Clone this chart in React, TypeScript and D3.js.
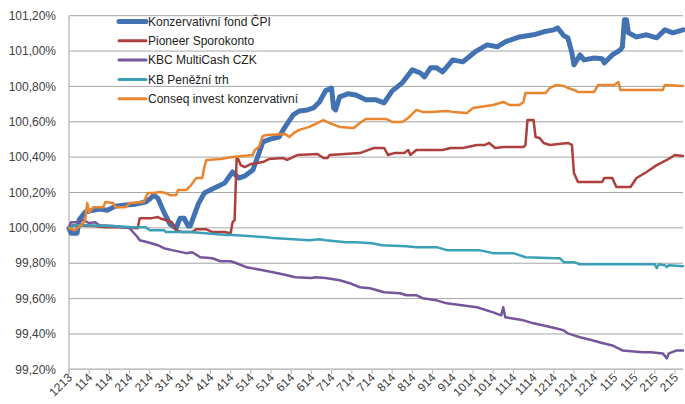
import React from "react";
import * as d3 from "d3";

const xLabels = ["1213","114","114","214","214","314","314","414","414","514","514","614","614","714","714","714","814","814","914","914","1014","1014","1114","1114","1214","1214","1214","115","115","215","215"];
const yTicks = [99.2, 99.4, 99.6, 99.8, 100.0, 100.2, 100.4, 100.6, 100.8, 101.0, 101.2];
const seriesNames = ["Konzervativní fond ČPI", "Pioneer Sporokonto", "KBC MultiCash CZK", "KB Peněžní trh", "Conseq invest konzervativní"];

const konzervativni: [number, number][] = [[0,99.998],[1,99.970],[4,99.970],[5,100.044],[8,100.089],[12,100.100],[15,100.106],[19,100.100],[23,100.123],[28,100.129],[33,100.134],[38,100.146],[40,100.163],[42,100.185],[44,100.168],[47,100.089],[50,100.021],[53,99.998],[55,100.055],[57,100.055],[59,100.010],[60,100.010],[62,100.072],[64,100.134],[67,100.197],[72,100.225],[77,100.253],[81,100.316],[84,100.282],[87,100.293],[91,100.327],[93,100.389],[96,100.486],[100,100.503],[104,100.514],[107,100.571],[111,100.639],[114,100.661],[118,100.667],[121,100.678],[124,100.712],[127,100.775],[130,100.791],[131,100.678],[132,100.667],[134,100.741],[138,100.758],[142,100.752],[147,100.724],[152,100.724],[156,100.707],[160,100.775],[165,100.820],[170,100.894],[174,100.876],[176,100.854],[179,100.905],[182,100.905],[185,100.882],[190,100.950],[195,100.939],[201,100.995],[207,101.035],[212,101.024],[216,101.052],[223,101.080],[230,101.092],[235,101.109],[240,101.120],[242,101.131],[245,101.086],[247,101.075],[249,100.990],[250,100.922],[253,100.978],[255,100.950],[260,100.961],[264,100.956],[265,100.933],[269,100.978],[273,101.007],[274,101.024],[275,101.177],[276,101.177],[277,101.103],[281,101.080],[286,101.092],[291,101.075],[295,101.120],[299,101.103],[304,101.120]];

const pioneer: [number, number][] = [[0,99.998],[2,100.015],[12,100.010],[18,100.004],[25,100.004],[34,99.998],[35,100.055],[41,100.055],[44,100.061],[46,100.050],[48,100.044],[51,100.032],[53,99.987],[56,99.976],[61,99.976],[63,99.992],[68,99.992],[71,99.976],[77,99.976],[80,99.970],[81,100.032],[82,100.044],[83,100.401],[84,100.384],[85,100.355],[87,100.344],[90,100.361],[96,100.372],[99,100.389],[106,100.395],[108,100.384],[113,100.412],[123,100.418],[126,100.395],[128,100.395],[129,100.412],[144,100.423],[148,100.440],[151,100.452],[156,100.452],[158,100.412],[161,100.423],[166,100.423],[168,100.440],[169,100.412],[172,100.440],[185,100.440],[189,100.452],[195,100.452],[202,100.469],[206,100.469],[208,100.480],[211,100.452],[215,100.457],[225,100.457],[226,100.469],[227,100.610],[230,100.610],[231,100.514],[233,100.508],[235,100.480],[238,100.469],[247,100.480],[249,100.469],[250,100.310],[252,100.259],[264,100.259],[265,100.282],[269,100.282],[271,100.231],[278,100.231],[281,100.282],[286,100.316],[291,100.355],[296,100.384],[300,100.412],[304,100.406]];

const kbc: [number, number][] = [[0,100.000],[1,100.032],[4,100.032],[7,100.044],[10,100.027],[13,100.032],[15,100.015],[22,100.010],[28,100.004],[30,99.998],[34,99.947],[35,99.930],[39,99.919],[44,99.902],[47,99.885],[51,99.874],[58,99.857],[61,99.862],[65,99.834],[71,99.828],[75,99.811],[80,99.811],[83,99.800],[88,99.777],[96,99.760],[101,99.749],[108,99.732],[112,99.721],[120,99.716],[122,99.721],[127,99.716],[134,99.704],[139,99.687],[144,99.664],[149,99.658],[156,99.636],[164,99.630],[167,99.619],[172,99.619],[175,99.602],[182,99.590],[187,99.573],[202,99.551],[210,99.522],[214,99.505],[215,99.551],[216,99.494],[225,99.477],[230,99.460],[241,99.432],[245,99.420],[247,99.403],[250,99.392],[253,99.381],[259,99.364],[263,99.352],[269,99.335],[274,99.307],[284,99.296],[288,99.296],[294,99.290],[296,99.262],[297,99.290],[301,99.307],[304,99.307]];

const kbTrh: [number, number][] = [[0,99.998],[3,100.015],[8,100.015],[20,100.010],[32,100.004],[38,100.004],[40,99.987],[47,99.987],[48,99.976],[60,99.976],[78,99.959],[81,99.959],[98,99.947],[101,99.942],[119,99.930],[124,99.936],[127,99.930],[137,99.919],[142,99.919],[150,99.913],[155,99.902],[167,99.896],[172,99.891],[182,99.891],[187,99.874],[203,99.874],[210,99.857],[220,99.857],[226,99.834],[241,99.828],[243,99.828],[245,99.806],[250,99.806],[253,99.794],[290,99.794],[291,99.772],[292,99.794],[295,99.789],[296,99.778],[297,99.789],[304,99.783]];

const conseq: [number, number][] = [[0,99.998],[3,99.987],[7,100.027],[8,100.044],[9,100.140],[10,100.089],[12,100.117],[17,100.117],[18,100.146],[22,100.140],[23,100.117],[28,100.117],[30,100.140],[37,100.146],[39,100.197],[42,100.197],[45,100.203],[48,100.197],[50,100.185],[53,100.185],[54,100.214],[58,100.214],[60,100.236],[63,100.282],[66,100.282],[67,100.344],[68,100.384],[75,100.389],[81,100.401],[91,100.412],[92,100.440],[94,100.457],[96,100.520],[98,100.525],[107,100.531],[109,100.514],[112,100.542],[114,100.554],[119,100.571],[126,100.610],[129,100.593],[134,100.571],[141,100.565],[144,100.593],[147,100.616],[157,100.616],[160,100.599],[165,100.599],[168,100.622],[172,100.667],[175,100.656],[179,100.656],[187,100.661],[190,100.656],[197,100.650],[200,100.678],[210,100.695],[215,100.712],[218,100.695],[223,100.695],[225,100.712],[226,100.763],[236,100.763],[238,100.791],[241,100.808],[245,100.803],[247,100.791],[250,100.780],[252,100.769],[260,100.769],[262,100.808],[270,100.808],[272,100.825],[273,100.780],[294,100.780],[295,100.808],[304,100.803]];

const allSeries = [konzervativni, pioneer, kbc, kbTrh, conseq];
const colors = ["#4272B1", "#AD3F3C", "#75569A", "#3AA0B8", "#E9852F"];
const widths = [5, 2.5, 2.5, 2.5, 2.5];

export default function App() {
  const W = 685, H = 404;
  const left = 69, right = 683, top = 15.7, bottom = 369.3;
  const x = d3.scaleLinear().domain([0, 304]).range([left, right]);
  const y = d3.scaleLinear().domain([99.2, 101.2]).range([bottom, top]);
  const line = d3.line<[number, number]>().x(d => x(d[0])).y(d => y(d[1]));
  const fmt = (v: number) => v.toFixed(2).replace(".", ",") + "%";
  const font = "'Liberation Sans', Arial, sans-serif";
  return (
    <svg width={W} height={H} style={{ position: "absolute", left: 0, top: 0, background: "#fff" }} fontFamily={font}>
      {yTicks.map(t => (
        <g key={t}>
          <line x1={left} x2={right} y1={y(t)} y2={y(t)} stroke="#a6a6a6" strokeWidth={1} />
          <text x={56} y={y(t)} dy="0.35em" textAnchor="end" fontSize={12} fill="#404040">{fmt(t)}</text>
        </g>
      ))}
      <line x1={left} x2={left} y1={top} y2={bottom + 5} stroke="#bfbfbf" strokeWidth={1.5} />
      <line x1={left} x2={right} y1={bottom} y2={bottom} stroke="#bfbfbf" strokeWidth={1.5} />
      {xLabels.map((lab, i) => {
        const tx = x(i * 10);
        return (
          <g key={i}>
            <line x1={tx} x2={tx} y1={bottom} y2={bottom + 5} stroke="#bfbfbf" strokeWidth={1.2} />
            <text transform={`translate(${tx + 4},${bottom + 9}) rotate(-45)`} textAnchor="end" fontSize={12} fill="#404040">{lab}</text>
          </g>
        );
      })}
      {allSeries.map((s, i) => (
        <path key={i} d={line(s) || ""} fill="none" stroke={colors[i]} strokeWidth={widths[i]} strokeLinejoin="round" strokeLinecap="round" />
      ))}
      {seriesNames.map((n, i) => {
        const ly = 21.5 + i * 19.3;
        return (
          <g key={n}>
            <line x1={119} x2={146} y1={ly} y2={ly} stroke={colors[i]} strokeWidth={i === 0 ? 5 : 3} strokeLinecap="round" />
            <text x={148} y={ly} dy="0.35em" fontSize={12} fill="#222">{n}</text>
          </g>
        );
      })}
    </svg>
  );
}
